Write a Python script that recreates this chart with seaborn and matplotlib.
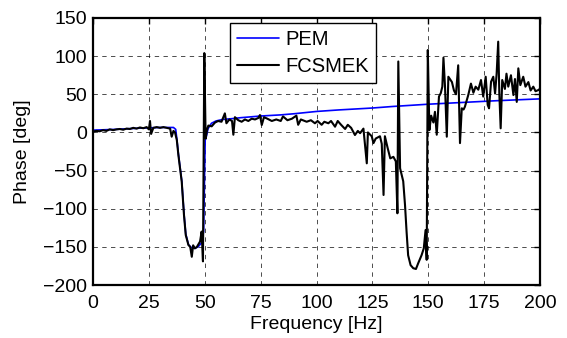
import numpy as np
import pandas as pd
import matplotlib
matplotlib.use("Agg")
import matplotlib.pyplot as plt
import seaborn as sns

# ---- data ----
fcsmek_freq = [0, 1.5, 3, 4.5, 6, 7.5, 9, 10.5, 12, 13.5, 15, 16.5, 18, 19.5, 21, 22.5, 24, 25, 25.5, 26,
               27, 28.5, 30, 31.5, 33, 34.5, 35.2, 36, 36.7, 37.5, 38.2, 39.7, 40.7, 41.5, 42.7, 43.5, 44.2,
               44.8, 45.6, 46.5, 47.9, 48.6, 49.2, 49.8, 50.4, 51, 51.6, 53.1, 54.6, 56, 57.5, 59, 59.7, 61,
               62.2, 62.8, 63.5, 65, 66.5, 68, 69.5, 71, 72.5, 74, 74.7, 75.5, 76.5, 78, 80, 82, 84, 85, 87,
               89, 91, 91.8, 93, 95.6, 97.5, 99.3, 100.5, 102.3, 103.5, 105.3, 106.5, 108.3, 109.5, 111,
               112.8, 114, 115.5, 117.2, 118.5, 119.5, 121, 122.5, 123, 124.7, 125.5, 126.5, 128.4, 129.2,
               130, 130.6, 131.8, 133, 134.4, 135.5, 136.2, 136.6, 137.4, 138.8, 139.6, 140.3, 141, 142.1,
               143.3, 144.5, 145.5, 147, 148, 148.8, 149.3, 149.8, 150.5, 151.3, 152.3, 153, 153.8, 154.8,
               155.6, 156.3, 156.8, 157.5, 158.3, 159, 160.6, 161.5, 162.4, 163.4, 164.2, 165, 165.8, 166.4,
               167.9, 169.1, 170.2, 171.2, 172.4, 173.6, 174.6, 175.7, 176.6, 177.2, 178.1, 179.1, 179.9,
               180.6, 181.3, 181.8, 182.4, 183.1, 184.3, 185, 185.8, 187, 188.1, 188.8, 189.6, 190.3, 191.2,
               192.5, 193.5, 194.8, 195.8, 197, 198, 199.6, 200]
fcsmek_phase = [1, 2, 1.5, 3, 2, 4, 3, 4, 4.5, 3.5, 5, 4.5, 6, 5, 6.5, 5.5, 7, 4, 15, -2,
                6, 7, 6, 7, 6, 5, -5.6, 2, 0, -10, -29.6, -64.6, -108, -134.5, -147.6, -150, -163,
                -148, -152, -150, -143, -130, -169, 104, -8, 3, 9, 8, 13, 15, 14, 25, 12, 17,
                15, -3, 20, 16, 14, 17, 15, 18, 17, 19, 22.8, 9.7, 20, 18, 15, 17, 15, 21, 16,
                18, 22, 10, 17, 14, 16, 12, 15, 10, 14, 12, 15, 7.5, 15, 10,
                4.5, 10, 6, -3.4, 2, -1, 5, -40.5, 0, -5, -14, -8, -5, -15,
                -82, -5, -20, -34, -32, -38, -106, 93, -47, -64, -95, -130, -161, -174,
                -178, -179, -171.5, -161, -152, -128, -167, 108, 3, 22, 13, 27, -3, 47,
                51.5, 60, 98, 60, -5.6, 73, 66, 55, 50, 88, -14, 31.6, 30, 33.7,
                49, 64, 52, 60, 56, 68.7, 47, 73, 36, 31.6, 66.5, 73, 51,
                77, 119, 51, 5.4, 68.7, 57, 77, 60, 75, 49, 70, 40, 84, 62,
                73, 60, 66, 55, 60, 54, 56, 58]

pem_freq = [0, 10, 20, 30, 36, 37, 37.5, 38.2, 39.7, 40.7, 41.5, 42.7, 44, 45.5, 47, 48.5, 49.5, 49.9,
            50.2, 50.5, 51.5, 53, 55, 58, 62, 66, 75, 84, 90, 100, 110, 125, 134, 150, 166, 180, 200]
pem_phase = [3, 4, 5.5, 6.5, 6.5, 4, -8, -28, -63, -106, -133, -147, -151, -152, -150, -145, -130, -60,
             -10, -8, 5, 12, 15, 17, 18, 19.3, 21.5, 23, 24.5, 27.5, 29.5, 32, 34, 37, 39.4, 41.5, 44]

x_ticks = [0, 25, 50, 75, 100, 125, 150, 175, 200]
y_ticks = [-200, -150, -100, -50, 0, 50, 100, 150]

# ---- style ----
sns.set_style("white")
plt.rcParams["font.family"] = ["Liberation Sans", "DejaVu Sans"]
plt.rcParams["font.size"] = 14
plt.rcParams["text.color"] = "black"
plt.rcParams["axes.labelcolor"] = "black"
plt.rcParams["xtick.color"] = "black"
plt.rcParams["ytick.color"] = "black"

fig = plt.figure(figsize=(5.67, 3.38), dpi=100)
ax = fig.add_axes([93 / 567, 1 - 285 / 338, (540 - 93) / 567, (285 - 18) / 338])

pem_df = pd.DataFrame({"Frequency": pem_freq, "Phase": pem_phase})
fc_df = pd.DataFrame({"Frequency": fcsmek_freq, "Phase": fcsmek_phase})

sns.lineplot(data=pem_df, x="Frequency", y="Phase", ax=ax, color="#0000ff", lw=1.2,
             label="PEM", estimator=None, sort=False)
sns.lineplot(data=fc_df, x="Frequency", y="Phase", ax=ax, color="black", lw=1.5,
             label="FCSMEK", estimator=None, sort=False)

ax.set_xlim(0, 200)
ax.set_ylim(-200, 150)
ax.set_xticks(x_ticks)
ax.set_yticks(y_ticks)
ax.set_xlabel("Frequency [Hz]", fontsize=14, labelpad=3, color="black")
ax.set_ylabel("Phase [deg]", fontsize=14, labelpad=9, color="black")

ax.grid(True, color="black", linestyle=(0, (4.5, 4.5)), linewidth=0.7, alpha=0.7)
ax.set_axisbelow(True)
for s in ax.spines.values():
    s.set_visible(True)
    s.set_color("black")
    s.set_linewidth(1.6)
ax.tick_params(direction="in", length=4, width=1, top=True, right=True,
               labelsize=14, colors="black")
ax.tick_params(axis="x", pad=7)
ax.tick_params(axis="y", pad=4)

leg = ax.legend(loc="upper left", bbox_to_anchor=(0.306, 0.982), fontsize=14.5,
                frameon=True, fancybox=False, framealpha=1, edgecolor="black",
                borderpad=0.35, labelspacing=0.4, handlelength=2.1, handletextpad=0.3,
                borderaxespad=0)
leg.get_frame().set_linewidth(1.0)
for t in leg.get_texts():
    t.set_color("black")

fig.savefig("out.png", dpi=100)
